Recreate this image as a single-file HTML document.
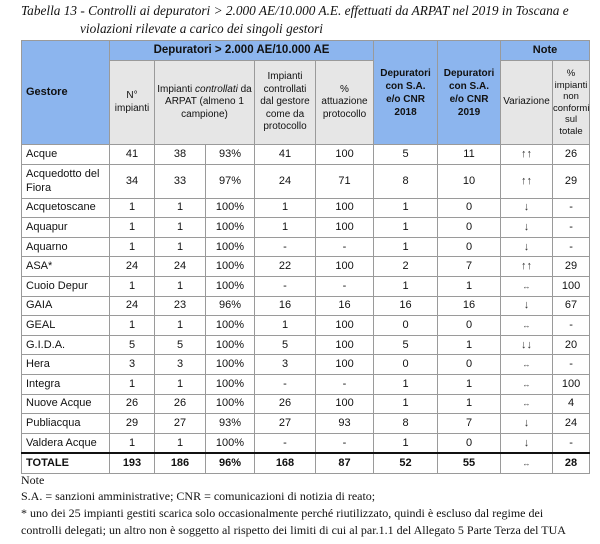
<!DOCTYPE html>
<html><head><meta charset="utf-8">
<style>
body{margin:0;width:600px;height:544px;background:#fff;position:relative;overflow:hidden;font-family:"Liberation Sans",Arial,sans-serif;}
.title{position:absolute;font-family:"Liberation Serif",serif;font-style:italic;font-size:13.3px;color:#111;white-space:nowrap;}
table{position:absolute;left:21px;top:40px;border-collapse:collapse;table-layout:fixed;width:568px;font-size:11px;color:#111;border:1.5px solid #333;}
td{border:1px solid #9a9a9a;text-align:center;padding:0;overflow:hidden;line-height:13px;}
td.g{text-align:left;padding-left:4px;}
.blue{background:#8cb5ee;font-weight:bold;}
.grey{background:#e6e6e6;font-size:10px;line-height:12.5px;}
tr.d td{height:18.6px;}
tr.tot td{height:19px;font-weight:bold;border-top:2px solid #111;}
.ar{font-size:11px;color:#333;}
.sm{font-size:8px;color:#444;}
.note{position:absolute;left:21px;font-family:"Liberation Serif",serif;font-size:12px;color:#111;white-space:nowrap;}
</style></head><body>
<div class="title" style="left:21px;top:3px;">Tabella 13 - Controlli ai depuratori &gt; 2.000 AE/10.000 A.E. effettuati da ARPAT nel 2019 in Toscana e</div>
<div class="title" style="left:80px;top:21px;">violazioni rilevate a carico dei singoli gestori</div>
<table>
<colgroup><col style="width:88px"><col style="width:45px"><col style="width:51px"><col style="width:49px"><col style="width:61px"><col style="width:58px"><col style="width:64px"><col style="width:63px"><col style="width:52px"><col style="width:37px"></colgroup>
<tr style="height:20px">
<td class="blue g" rowspan="2" style="font-size:11px">Gestore</td>
<td class="blue" colspan="5" style="font-size:11.5px">Depuratori &gt; 2.000 AE/10.000 AE</td>
<td class="blue" rowspan="2" style="font-size:10px;line-height:13px">Depuratori<br>con S.A.<br>e/o CNR<br>2018</td>
<td class="blue" rowspan="2" style="font-size:10px;line-height:13px">Depuratori<br>con S.A.<br>e/o CNR<br>2019</td>
<td class="blue" colspan="2" style="font-size:11px">Note</td>
</tr>
<tr style="height:84px">
<td class="grey">N°<br>impianti</td>
<td class="grey" colspan="2">Impianti <i>controllati</i> da<br>ARPAT (almeno 1<br>campione)</td>
<td class="grey">Impianti<br>controllati<br>dal gestore<br>come da<br>protocollo</td>
<td class="grey">%<br>attuazione<br>protocollo</td>
<td class="grey">Variazione</td>
<td class="grey" style="font-size:9.5px;line-height:11.5px">%<br>impianti<br>non<br>conformi<br>sul<br>totale</td>
</tr>
<tr class="d"><td class="g">Acque</td><td>41</td><td>38</td><td>93%</td><td>41</td><td>100</td><td>5</td><td>11</td><td class="ar">↑↑</td><td>26</td></tr>
<tr style="height:34px"><td class="g" style="line-height:14px">Acquedotto del<br>Fiora</td><td>34</td><td>33</td><td>97%</td><td>24</td><td>71</td><td>8</td><td>10</td><td class="ar">↑↑</td><td>29</td></tr>
<tr class="d"><td class="g">Acquetoscane</td><td>1</td><td>1</td><td>100%</td><td>1</td><td>100</td><td>1</td><td>0</td><td class="ar">↓</td><td>-</td></tr>
<tr class="d"><td class="g">Aquapur</td><td>1</td><td>1</td><td>100%</td><td>1</td><td>100</td><td>1</td><td>0</td><td class="ar">↓</td><td>-</td></tr>
<tr class="d"><td class="g">Aquarno</td><td>1</td><td>1</td><td>100%</td><td>-</td><td>-</td><td>1</td><td>0</td><td class="ar">↓</td><td>-</td></tr>
<tr class="d"><td class="g">ASA*</td><td>24</td><td>24</td><td>100%</td><td>22</td><td>100</td><td>2</td><td>7</td><td class="ar">↑↑</td><td>29</td></tr>
<tr class="d"><td class="g">Cuoio Depur</td><td>1</td><td>1</td><td>100%</td><td>-</td><td>-</td><td>1</td><td>1</td><td class="sm">↔</td><td>100</td></tr>
<tr class="d"><td class="g">GAIA</td><td>24</td><td>23</td><td>96%</td><td>16</td><td>16</td><td>16</td><td>16</td><td class="ar">↓</td><td>67</td></tr>
<tr class="d"><td class="g">GEAL</td><td>1</td><td>1</td><td>100%</td><td>1</td><td>100</td><td>0</td><td>0</td><td class="sm">↔</td><td>-</td></tr>
<tr class="d"><td class="g">G.I.D.A.</td><td>5</td><td>5</td><td>100%</td><td>5</td><td>100</td><td>5</td><td>1</td><td class="ar">↓↓</td><td>20</td></tr>
<tr class="d"><td class="g">Hera</td><td>3</td><td>3</td><td>100%</td><td>3</td><td>100</td><td>0</td><td>0</td><td class="sm">↔</td><td>-</td></tr>
<tr class="d"><td class="g">Integra</td><td>1</td><td>1</td><td>100%</td><td>-</td><td>-</td><td>1</td><td>1</td><td class="sm">↔</td><td>100</td></tr>
<tr class="d"><td class="g">Nuove Acque</td><td>26</td><td>26</td><td>100%</td><td>26</td><td>100</td><td>1</td><td>1</td><td class="sm">↔</td><td>4</td></tr>
<tr class="d"><td class="g">Publiacqua</td><td>29</td><td>27</td><td>93%</td><td>27</td><td>93</td><td>8</td><td>7</td><td class="ar">↓</td><td>24</td></tr>
<tr class="d"><td class="g">Valdera Acque</td><td>1</td><td>1</td><td>100%</td><td>-</td><td>-</td><td>1</td><td>0</td><td class="ar">↓</td><td>-</td></tr>
<tr class="tot"><td class="g">TOTALE</td><td>193</td><td>186</td><td>96%</td><td>168</td><td>87</td><td>52</td><td>55</td><td class="sm" style="font-weight:normal">↔</td><td>28</td></tr>
</table>
<div class="note" style="top:473px;">Note</div>
<div class="note" style="top:489px;">S.A. = sanzioni amministrative; CNR = comunicazioni di notizia di reato;</div>
<div class="note" style="top:506px;">* uno dei 25 impianti gestiti scarica solo occasionalmente perché riutilizzato, quindi è escluso dal regime dei</div>
<div class="note" style="top:523px;">controlli delegati; un altro non è soggetto al rispetto dei limiti di cui al par.1.1 del Allegato 5 Parte Terza del TUA</div>
</body></html>
